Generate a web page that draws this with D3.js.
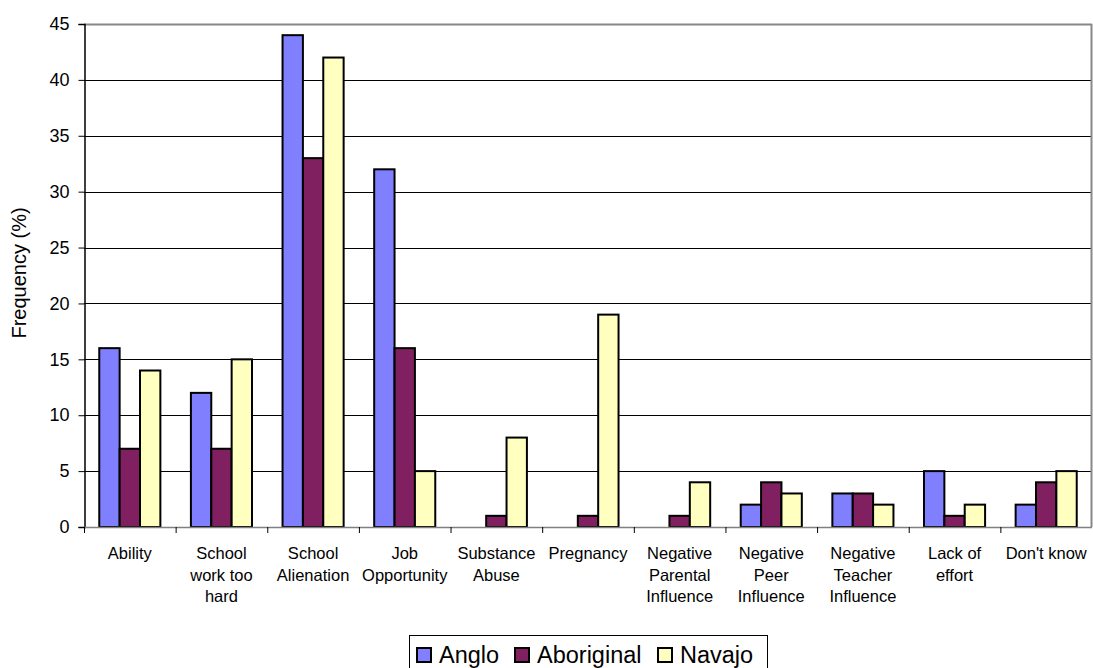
<!DOCTYPE html>
<html>
<head>
<meta charset="utf-8">
<script src="https://cdn.jsdelivr.net/npm/d3@7"></script>
<style>
  html, body { margin: 0; padding: 0; background: #fff; }
  svg { display: block; font-family: "Liberation Sans", Arial, sans-serif; }
</style>
</head>
<body>
<svg id="chart" width="1093" height="668"></svg>
<script>
// Reasons for dropping out, by group (percent)
const categories = [
  ["Ability"],
  ["School", "work too", "hard"],
  ["School", "Alienation"],
  ["Job", "Opportunity"],
  ["Substance", "Abuse"],
  ["Pregnancy"],
  ["Negative", "Parental", "Influence"],
  ["Negative", "Peer", "Influence"],
  ["Negative", "Teacher", "Influence"],
  ["Lack of", "effort"],
  ["Don't know"]
];
const seriesNames = ["Anglo", "Aboriginal", "Navajo"];
const anglo      = [16, 12, 44, 32, 0, 0, 0, 2, 3, 5, 2];
const aboriginal = [7, 7, 33, 16, 1, 1, 1, 4, 3, 1, 4];
const navajo     = [14, 15, 42, 5, 8, 19, 4, 3, 2, 2, 5];
const yTicks = [0, 5, 10, 15, 20, 25, 30, 35, 40, 45];
const colors = ["#8080FF", "#802060", "#FFFFC0"];

const series = [anglo, aboriginal, navajo];
const svg = d3.select("#chart");

const plot = { left: 84, right: 1092, top: 24, bottom: 527 };

const x = d3.scaleBand()
  .domain(d3.range(categories.length))
  .range([plot.left, plot.right])
  .paddingInner(0).paddingOuter(0);

const xInner = d3.scaleBand()
  .domain(d3.range(series.length))
  .range([0, x.bandwidth()])
  .paddingInner(0)
  .paddingOuter(0.75);

const y = d3.scaleLinear().domain([0, 45]).range([plot.bottom, plot.top]);

// Horizontal gridlines
svg.append("g")
  .selectAll("line")
  .data(yTicks.filter(d => d > 0 && d < 45))
  .join("line")
  .attr("x1", plot.left).attr("x2", plot.right)
  .attr("y1", d => Math.round(y(d)) + 0.5).attr("y2", d => Math.round(y(d)) + 0.5)
  .attr("stroke", "#000").attr("stroke-width", 1);

// Plot frame: top and right edges in grey
svg.append("line")
  .attr("x1", plot.left).attr("x2", plot.right)
  .attr("y1", plot.top + 0.5).attr("y2", plot.top + 0.5)
  .attr("stroke", "#888").attr("stroke-width", 2);
svg.append("line")
  .attr("x1", plot.right - 0.5).attr("x2", plot.right - 0.5)
  .attr("y1", plot.top).attr("y2", plot.bottom)
  .attr("stroke", "#888").attr("stroke-width", 2);

// Bars
const groups = svg.append("g")
  .selectAll("g")
  .data(series)
  .join("g")
  .attr("fill", (d, i) => colors[i]);

groups.each(function (vals, si) {
  d3.select(this).selectAll("rect")
    .data(vals.map((v, ci) => ({ v, ci })).filter(d => d.v > 0))
    .join("rect")
    .attr("x", d => x(d.ci) + xInner(si))
    .attr("width", xInner.bandwidth())
    .attr("y", d => y(d.v))
    .attr("height", d => y(0) - y(d.v))
    .attr("stroke", "#000")
    .attr("stroke-width", 2);
});

// Y axis
const yAxis = d3.axisLeft(y).tickValues(yTicks).tickSize(6).tickPadding(9);
const gy = svg.append("g")
  .attr("transform", `translate(${plot.left + 0.5},0)`)
  .call(yAxis);
gy.select(".domain").attr("stroke", "#000").attr("stroke-width", 1.5);
gy.selectAll(".tick line").attr("stroke", "#000");
gy.selectAll(".tick text")
  .attr("font-size", 18)
  .attr("fill", "#000")
  .attr("font-family", "Liberation Sans, Arial, sans-serif");

// X axis baseline and ticks at category boundaries
const boundaries = d3.range(categories.length).map(i => x(i));
svg.append("line")
  .attr("x1", plot.left).attr("x2", plot.right)
  .attr("y1", y(0) + 0.5).attr("y2", y(0) + 0.5)
  .attr("stroke", "#808080").attr("stroke-width", 1.5);
svg.append("g")
  .selectAll("line")
  .data(boundaries)
  .join("line")
  .attr("x1", d => d + 0.5).attr("x2", d => d + 0.5)
  .attr("y1", y(0)).attr("y2", y(0) + 6)
  .attr("stroke", "#000");

// Category labels
const labels = svg.append("g")
  .selectAll("text")
  .data(categories)
  .join("text")
  .attr("text-anchor", "middle")
  .attr("font-size", 16.5)
  .attr("fill", "#000")
  .attr("transform", (d, i) => `translate(${x(i) + x.bandwidth() / 2},559)`);
labels.selectAll("tspan")
  .data(d => d)
  .join("tspan")
  .attr("x", 0)
  .attr("y", (d, i) => i * 21.7)
  .text(d => d);

// Y axis title
svg.append("text")
  .attr("transform", "translate(26,273) rotate(-90)")
  .attr("text-anchor", "middle")
  .attr("font-size", 20)
  .attr("fill", "#000")
  .text("Frequency (%)");

// Legend
const legend = svg.append("g");
legend.append("rect")
  .attr("x", 409.5).attr("y", 635.5)
  .attr("width", 358).attr("height", 40)
  .attr("fill", "#fff").attr("stroke", "#000").attr("stroke-width", 1);

const swatchX = [417, 515, 658];
const items = legend.selectAll("g.item")
  .data(seriesNames)
  .join("g")
  .attr("class", "item")
  .attr("transform", (d, i) => `translate(${swatchX[i]},0)`);
items.append("rect")
  .attr("x", 0).attr("y", 648)
  .attr("width", 14).attr("height", 14)
  .attr("fill", (d, i) => colors[i])
  .attr("stroke", "#000").attr("stroke-width", 2);
items.append("text")
  .attr("x", 22).attr("y", 663)
  .attr("font-size", 23.5)
  .attr("fill", "#000")
  .text(d => d);
</script>
</body>
</html>
